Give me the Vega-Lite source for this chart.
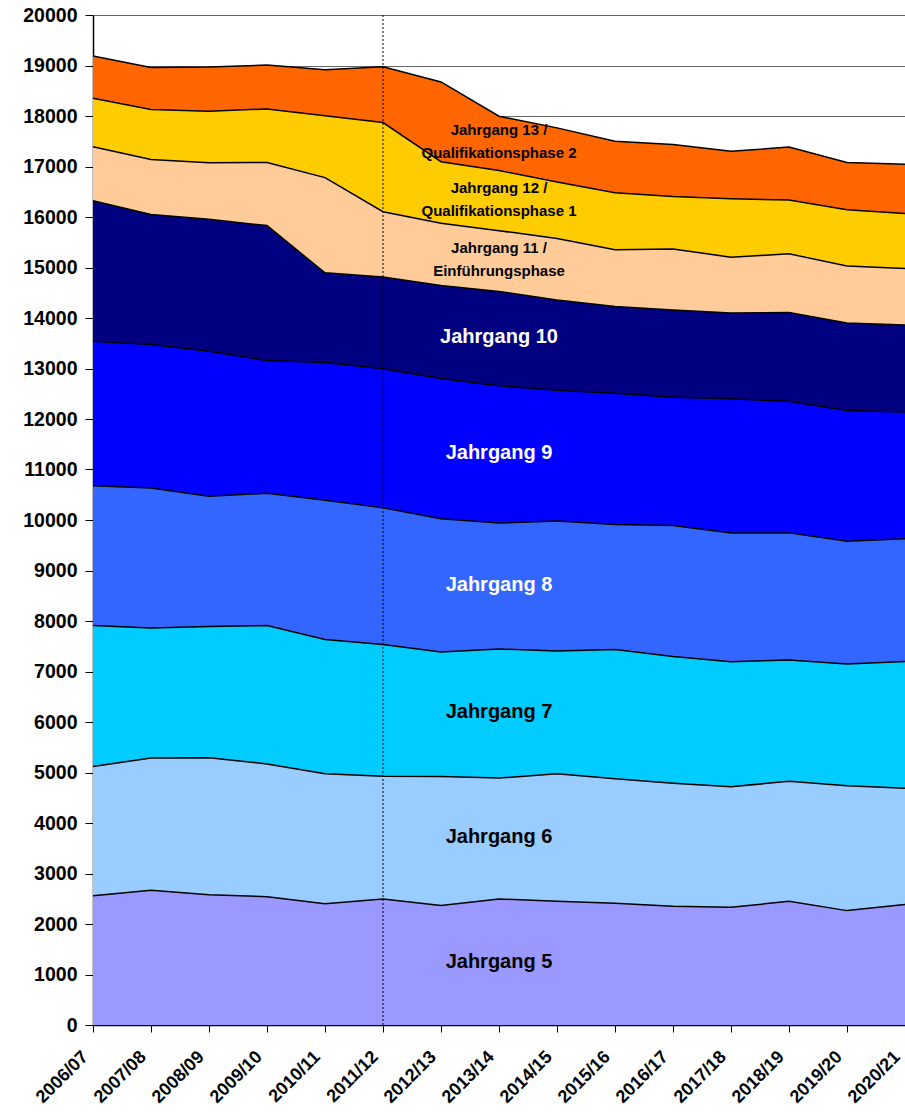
{
  "$schema": "https://vega.github.io/schema/vega-lite/v6.json",
  "width": 812,
  "height": 1010,
  "autosize": {"type": "none"},
  "padding": {"left": 93, "top": 15, "right": 0, "bottom": 88},
  "background": "white",
  "config": {"view": {"stroke": null}, "font": "Liberation Sans"},
  "datasets": {
    "schueler": [
      {"Schuljahr": "2006/07", "Jahrgang": 5, "Schueler": 2560},
      {"Schuljahr": "2006/07", "Jahrgang": 6, "Schueler": 2560},
      {"Schuljahr": "2006/07", "Jahrgang": 7, "Schueler": 2790},
      {"Schuljahr": "2006/07", "Jahrgang": 8, "Schueler": 2770},
      {"Schuljahr": "2006/07", "Jahrgang": 9, "Schueler": 2860},
      {"Schuljahr": "2006/07", "Jahrgang": 10, "Schueler": 2780},
      {"Schuljahr": "2006/07", "Jahrgang": 11, "Schueler": 1070},
      {"Schuljahr": "2006/07", "Jahrgang": 12, "Schueler": 960},
      {"Schuljahr": "2006/07", "Jahrgang": 13, "Schueler": 840},
      {"Schuljahr": "2007/08", "Jahrgang": 5, "Schueler": 2670},
      {"Schuljahr": "2007/08", "Jahrgang": 6, "Schueler": 2615},
      {"Schuljahr": "2007/08", "Jahrgang": 7, "Schueler": 2575},
      {"Schuljahr": "2007/08", "Jahrgang": 8, "Schueler": 2775},
      {"Schuljahr": "2007/08", "Jahrgang": 9, "Schueler": 2840},
      {"Schuljahr": "2007/08", "Jahrgang": 10, "Schueler": 2575},
      {"Schuljahr": "2007/08", "Jahrgang": 11, "Schueler": 1090},
      {"Schuljahr": "2007/08", "Jahrgang": 12, "Schueler": 990},
      {"Schuljahr": "2007/08", "Jahrgang": 13, "Schueler": 830},
      {"Schuljahr": "2008/09", "Jahrgang": 5, "Schueler": 2580},
      {"Schuljahr": "2008/09", "Jahrgang": 6, "Schueler": 2710},
      {"Schuljahr": "2008/09", "Jahrgang": 7, "Schueler": 2600},
      {"Schuljahr": "2008/09", "Jahrgang": 8, "Schueler": 2580},
      {"Schuljahr": "2008/09", "Jahrgang": 9, "Schueler": 2870},
      {"Schuljahr": "2008/09", "Jahrgang": 10, "Schueler": 2615},
      {"Schuljahr": "2008/09", "Jahrgang": 11, "Schueler": 1120},
      {"Schuljahr": "2008/09", "Jahrgang": 12, "Schueler": 1020},
      {"Schuljahr": "2008/09", "Jahrgang": 13, "Schueler": 875},
      {"Schuljahr": "2009/10", "Jahrgang": 5, "Schueler": 2540},
      {"Schuljahr": "2009/10", "Jahrgang": 6, "Schueler": 2630},
      {"Schuljahr": "2009/10", "Jahrgang": 7, "Schueler": 2740},
      {"Schuljahr": "2009/10", "Jahrgang": 8, "Schueler": 2620},
      {"Schuljahr": "2009/10", "Jahrgang": 9, "Schueler": 2630},
      {"Schuljahr": "2009/10", "Jahrgang": 10, "Schueler": 2670},
      {"Schuljahr": "2009/10", "Jahrgang": 11, "Schueler": 1250},
      {"Schuljahr": "2009/10", "Jahrgang": 12, "Schueler": 1060},
      {"Schuljahr": "2009/10", "Jahrgang": 13, "Schueler": 870},
      {"Schuljahr": "2010/11", "Jahrgang": 5, "Schueler": 2400},
      {"Schuljahr": "2010/11", "Jahrgang": 6, "Schueler": 2575},
      {"Schuljahr": "2010/11", "Jahrgang": 7, "Schueler": 2660},
      {"Schuljahr": "2010/11", "Jahrgang": 8, "Schueler": 2755},
      {"Schuljahr": "2010/11", "Jahrgang": 9, "Schueler": 2730},
      {"Schuljahr": "2010/11", "Jahrgang": 10, "Schueler": 1775},
      {"Schuljahr": "2010/11", "Jahrgang": 11, "Schueler": 1885},
      {"Schuljahr": "2010/11", "Jahrgang": 12, "Schueler": 1225},
      {"Schuljahr": "2010/11", "Jahrgang": 13, "Schueler": 910},
      {"Schuljahr": "2011/12", "Jahrgang": 5, "Schueler": 2495},
      {"Schuljahr": "2011/12", "Jahrgang": 6, "Schueler": 2430},
      {"Schuljahr": "2011/12", "Jahrgang": 7, "Schueler": 2610},
      {"Schuljahr": "2011/12", "Jahrgang": 8, "Schueler": 2705},
      {"Schuljahr": "2011/12", "Jahrgang": 9, "Schueler": 2755},
      {"Schuljahr": "2011/12", "Jahrgang": 10, "Schueler": 1815},
      {"Schuljahr": "2011/12", "Jahrgang": 11, "Schueler": 1295},
      {"Schuljahr": "2011/12", "Jahrgang": 12, "Schueler": 1765},
      {"Schuljahr": "2011/12", "Jahrgang": 13, "Schueler": 1105},
      {"Schuljahr": "2012/13", "Jahrgang": 5, "Schueler": 2365},
      {"Schuljahr": "2012/13", "Jahrgang": 6, "Schueler": 2555},
      {"Schuljahr": "2012/13", "Jahrgang": 7, "Schueler": 2465},
      {"Schuljahr": "2012/13", "Jahrgang": 8, "Schueler": 2640},
      {"Schuljahr": "2012/13", "Jahrgang": 9, "Schueler": 2775},
      {"Schuljahr": "2012/13", "Jahrgang": 10, "Schueler": 1845},
      {"Schuljahr": "2012/13", "Jahrgang": 11, "Schueler": 1230},
      {"Schuljahr": "2012/13", "Jahrgang": 12, "Schueler": 1220},
      {"Schuljahr": "2012/13", "Jahrgang": 13, "Schueler": 1580},
      {"Schuljahr": "2013/14", "Jahrgang": 5, "Schueler": 2495},
      {"Schuljahr": "2013/14", "Jahrgang": 6, "Schueler": 2395},
      {"Schuljahr": "2013/14", "Jahrgang": 7, "Schueler": 2555},
      {"Schuljahr": "2013/14", "Jahrgang": 8, "Schueler": 2495},
      {"Schuljahr": "2013/14", "Jahrgang": 9, "Schueler": 2720},
      {"Schuljahr": "2013/14", "Jahrgang": 10, "Schueler": 1865},
      {"Schuljahr": "2013/14", "Jahrgang": 11, "Schueler": 1205},
      {"Schuljahr": "2013/14", "Jahrgang": 12, "Schueler": 1190},
      {"Schuljahr": "2013/14", "Jahrgang": 13, "Schueler": 1075},
      {"Schuljahr": "2014/15", "Jahrgang": 5, "Schueler": 2450},
      {"Schuljahr": "2014/15", "Jahrgang": 6, "Schueler": 2525},
      {"Schuljahr": "2014/15", "Jahrgang": 7, "Schueler": 2430},
      {"Schuljahr": "2014/15", "Jahrgang": 8, "Schueler": 2575},
      {"Schuljahr": "2014/15", "Jahrgang": 9, "Schueler": 2590},
      {"Schuljahr": "2014/15", "Jahrgang": 10, "Schueler": 1785},
      {"Schuljahr": "2014/15", "Jahrgang": 11, "Schueler": 1220},
      {"Schuljahr": "2014/15", "Jahrgang": 12, "Schueler": 1120},
      {"Schuljahr": "2014/15", "Jahrgang": 13, "Schueler": 1070},
      {"Schuljahr": "2015/16", "Jahrgang": 5, "Schueler": 2410},
      {"Schuljahr": "2015/16", "Jahrgang": 6, "Schueler": 2465},
      {"Schuljahr": "2015/16", "Jahrgang": 7, "Schueler": 2560},
      {"Schuljahr": "2015/16", "Jahrgang": 8, "Schueler": 2475},
      {"Schuljahr": "2015/16", "Jahrgang": 9, "Schueler": 2600},
      {"Schuljahr": "2015/16", "Jahrgang": 10, "Schueler": 1720},
      {"Schuljahr": "2015/16", "Jahrgang": 11, "Schueler": 1120},
      {"Schuljahr": "2015/16", "Jahrgang": 12, "Schueler": 1130},
      {"Schuljahr": "2015/16", "Jahrgang": 13, "Schueler": 1020},
      {"Schuljahr": "2016/17", "Jahrgang": 5, "Schueler": 2350},
      {"Schuljahr": "2016/17", "Jahrgang": 6, "Schueler": 2435},
      {"Schuljahr": "2016/17", "Jahrgang": 7, "Schueler": 2510},
      {"Schuljahr": "2016/17", "Jahrgang": 8, "Schueler": 2595},
      {"Schuljahr": "2016/17", "Jahrgang": 9, "Schueler": 2540},
      {"Schuljahr": "2016/17", "Jahrgang": 10, "Schueler": 1730},
      {"Schuljahr": "2016/17", "Jahrgang": 11, "Schueler": 1205},
      {"Schuljahr": "2016/17", "Jahrgang": 12, "Schueler": 1040},
      {"Schuljahr": "2016/17", "Jahrgang": 13, "Schueler": 1030},
      {"Schuljahr": "2017/18", "Jahrgang": 5, "Schueler": 2330},
      {"Schuljahr": "2017/18", "Jahrgang": 6, "Schueler": 2390},
      {"Schuljahr": "2017/18", "Jahrgang": 7, "Schueler": 2475},
      {"Schuljahr": "2017/18", "Jahrgang": 8, "Schueler": 2550},
      {"Schuljahr": "2017/18", "Jahrgang": 9, "Schueler": 2655},
      {"Schuljahr": "2017/18", "Jahrgang": 10, "Schueler": 1700},
      {"Schuljahr": "2017/18", "Jahrgang": 11, "Schueler": 1105},
      {"Schuljahr": "2017/18", "Jahrgang": 12, "Schueler": 1155},
      {"Schuljahr": "2017/18", "Jahrgang": 13, "Schueler": 940},
      {"Schuljahr": "2018/19", "Jahrgang": 5, "Schueler": 2450},
      {"Schuljahr": "2018/19", "Jahrgang": 6, "Schueler": 2375},
      {"Schuljahr": "2018/19", "Jahrgang": 7, "Schueler": 2405},
      {"Schuljahr": "2018/19", "Jahrgang": 8, "Schueler": 2515},
      {"Schuljahr": "2018/19", "Jahrgang": 9, "Schueler": 2605},
      {"Schuljahr": "2018/19", "Jahrgang": 10, "Schueler": 1760},
      {"Schuljahr": "2018/19", "Jahrgang": 11, "Schueler": 1160},
      {"Schuljahr": "2018/19", "Jahrgang": 12, "Schueler": 1065},
      {"Schuljahr": "2018/19", "Jahrgang": 13, "Schueler": 1050},
      {"Schuljahr": "2019/20", "Jahrgang": 5, "Schueler": 2265},
      {"Schuljahr": "2019/20", "Jahrgang": 6, "Schueler": 2475},
      {"Schuljahr": "2019/20", "Jahrgang": 7, "Schueler": 2410},
      {"Schuljahr": "2019/20", "Jahrgang": 8, "Schueler": 2430},
      {"Schuljahr": "2019/20", "Jahrgang": 9, "Schueler": 2590},
      {"Schuljahr": "2019/20", "Jahrgang": 10, "Schueler": 1730},
      {"Schuljahr": "2019/20", "Jahrgang": 11, "Schueler": 1130},
      {"Schuljahr": "2019/20", "Jahrgang": 12, "Schueler": 1115},
      {"Schuljahr": "2019/20", "Jahrgang": 13, "Schueler": 935},
      {"Schuljahr": "2020/21", "Jahrgang": 5, "Schueler": 2385},
      {"Schuljahr": "2020/21", "Jahrgang": 6, "Schueler": 2305},
      {"Schuljahr": "2020/21", "Jahrgang": 7, "Schueler": 2510},
      {"Schuljahr": "2020/21", "Jahrgang": 8, "Schueler": 2430},
      {"Schuljahr": "2020/21", "Jahrgang": 9, "Schueler": 2510},
      {"Schuljahr": "2020/21", "Jahrgang": 10, "Schueler": 1720},
      {"Schuljahr": "2020/21", "Jahrgang": 11, "Schueler": 1120},
      {"Schuljahr": "2020/21", "Jahrgang": 12, "Schueler": 1090},
      {"Schuljahr": "2020/21", "Jahrgang": 13, "Schueler": 975}
    ],
    "beschriftung": [
      {"Schuljahr": "2013/14", "Wert": 1248, "Text": "Jahrgang 5"},
      {"Schuljahr": "2013/14", "Wert": 3714, "Text": "Jahrgang 6"},
      {"Schuljahr": "2013/14", "Wert": 6206, "Text": "Jahrgang 7"},
      {"Schuljahr": "2013/14", "Wert": 8703, "Text": "Jahrgang 8"},
      {"Schuljahr": "2013/14", "Wert": 11336, "Text": "Jahrgang 9"},
      {"Schuljahr": "2013/14", "Wert": 13615, "Text": "Jahrgang 10"},
      {"Schuljahr": "2013/14", "Wert": 15378, "Text": "Jahrgang 11 /\nEinführungsphase"},
      {"Schuljahr": "2013/14", "Wert": 16567, "Text": "Jahrgang 12 /\nQualifikationsphase 1"},
      {"Schuljahr": "2013/14", "Wert": 17716, "Text": "Jahrgang 13 /\nQualifikationsphase 2"}
    ],
    "markierung": [
      {"Schuljahr": "2011/12"}
    ]
  },
  "layer": [
    {
      "data": {"name": "schueler"},
      "mark": {"type": "area", "opacity": 1},
      "encoding": {
        "x": {
          "field": "Schuljahr", "type": "ordinal",
          "scale": {"type": "point", "padding": 0},
          "axis": {
            "title": null, "labelAngle": -45, "labelAlign": "right", "labelBaseline": "middle",
            "labelFont": "Liberation Sans", "labelFontSize": 18, "labelFontWeight": "bold", "labelColor": "black",
            "labelPadding": 22, "labelOffset": -8, "tickColor": "black", "tickSize": 7, "domainColor": "black", "domainWidth": 1.5, "grid": false
          }
        },
        "y": {
          "field": "Schueler", "type": "quantitative", "stack": "zero",
          "scale": {"domain": [0, 20000], "nice": false},
          "axis": {
            "title": null, "values": [0,1000,2000,3000,4000,5000,6000,7000,8000,9000,10000,11000,12000,13000,14000,15000,16000,17000,18000,19000,20000],
            "format": "d", "grid": true, "gridColor": "#666666", "gridWidth": 1,
            "labelFont": "Liberation Sans", "labelFontSize": 19.5, "labelFontWeight": "bold", "labelColor": "black",
            "labelPadding": 8, "tickColor": "black", "tickSize": 8, "domainColor": "black", "domainWidth": 1.5
          }
        },
        "color": {
          "field": "Jahrgang", "type": "ordinal",
          "scale": {"domain": [5,6,7,8,9,10,11,12,13], "range": ["#9999FF","#99CCFF","#00CCFF","#3366FF","#0000FF","#000080","#FFCC99","#FFCC00","#FF6600"]},
          "legend": null
        },
        "order": {"field": "Jahrgang", "type": "quantitative", "sort": "ascending"}
      }
    },
    {
      "data": {"name": "schueler"},
      "mark": {"type": "line", "color": "black", "strokeWidth": 1.5},
      "encoding": {
        "x": {"field": "Schuljahr", "type": "ordinal"},
        "y": {"field": "Schueler", "type": "quantitative", "stack": "zero"},
        "detail": {"field": "Jahrgang", "type": "ordinal"},
        "order": {"field": "Jahrgang", "type": "quantitative", "sort": "ascending"}
      }
    },
    {
      "data": {"name": "markierung"},
      "mark": {"type": "rule", "color": "black", "strokeWidth": 1, "strokeDash": [2, 2]},
      "encoding": {"x": {"field": "Schuljahr", "type": "ordinal"}}
    },
    {
      "data": {"name": "beschriftung"},
      "transform": [{"filter": {"field": "Text", "oneOf": ["Jahrgang 5", "Jahrgang 6", "Jahrgang 7"]}}],
      "mark": {"type": "text", "font": "Liberation Sans", "fontSize": 20, "fontWeight": "bold", "color": "black", "align": "center", "baseline": "middle"},
      "encoding": {
        "x": {"field": "Schuljahr", "type": "ordinal"},
        "y": {"field": "Wert", "type": "quantitative"},
        "text": {"field": "Text"}
      }
    },
    {
      "data": {"name": "beschriftung"},
      "transform": [{"filter": {"field": "Text", "oneOf": ["Jahrgang 8", "Jahrgang 9", "Jahrgang 10"]}}],
      "mark": {"type": "text", "font": "Liberation Sans", "fontSize": 20, "fontWeight": "bold", "color": "white", "align": "center", "baseline": "middle"},
      "encoding": {
        "x": {"field": "Schuljahr", "type": "ordinal"},
        "y": {"field": "Wert", "type": "quantitative"},
        "text": {"field": "Text"}
      }
    },
    {
      "data": {"name": "beschriftung"},
      "transform": [{"filter": {"field": "Text", "oneOf": ["Jahrgang 11 /\nEinführungsphase", "Jahrgang 12 /\nQualifikationsphase 1", "Jahrgang 13 /\nQualifikationsphase 2"]}}],
      "mark": {"type": "text", "font": "Liberation Sans", "fontSize": 15, "fontWeight": "bold", "color": "black", "align": "center", "baseline": "middle", "lineBreak": "\n", "lineHeight": 23},
      "encoding": {
        "x": {"field": "Schuljahr", "type": "ordinal"},
        "y": {"field": "Wert", "type": "quantitative"},
        "text": {"field": "Text"}
      }
    }
  ]
}
